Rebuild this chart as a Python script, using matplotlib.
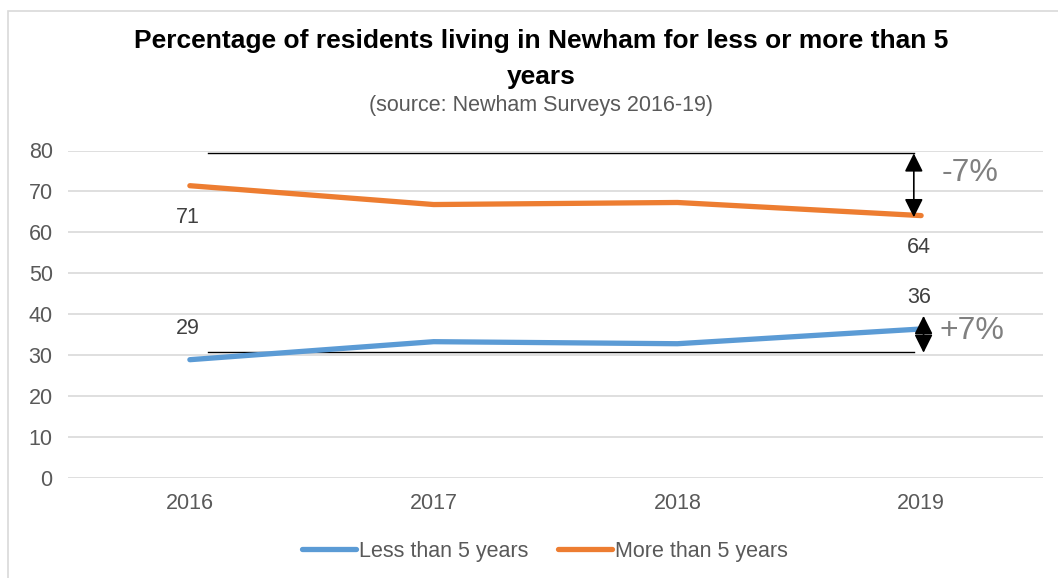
import matplotlib
matplotlib.use("Agg")
import matplotlib.pyplot as plt
from matplotlib.patches import Rectangle

plt.rcParams['font.family'] = ['Liberation Sans', 'DejaVu Sans']

years = ["2016", "2017", "2018", "2019"]
less_than_5 = [28.9, 33.3, 32.8, 36.4]
more_than_5 = [71.4, 66.8, 67.3, 64.1]
less_labels = ["29", "", "", "36"]
more_labels = ["71", "", "", "64"]
y_ticks = [0, 10, 20, 30, 40, 50, 60, 70, 80]

blue = "#5B9BD5"
orange = "#ED7D31"
fs = 15.5

fig = plt.figure(figsize=(10.58, 5.78), dpi=100)
# outer chart border
fig.patches.append(Rectangle((8 / 1058, -0.1), 1.2, (578 - 11) / 578 + 0.1,
                             transform=fig.transFigure, fill=False,
                             edgecolor="#D9D9D9", linewidth=1.2))

ax = fig.add_axes([68 / 1058, 100 / 578, 975 / 1058, 327.5 / 578])
x = list(range(len(years)))
ax.plot(x, less_than_5, color=blue, lw=3.8, solid_capstyle='round', label="Less than 5 years", zorder=3)
ax.plot(x, more_than_5, color=orange, lw=3.8, solid_capstyle='round', label="More than 5 years", zorder=3)

ax.set_xlim(-0.5, len(years) - 0.5)
ax.set_ylim(0, 80)
ax.set_yticks(y_ticks)
ax.set_xticks(x)
ax.set_xticklabels(years)
ax.tick_params(axis='both', length=0, labelsize=fs, labelcolor="#595959")
ax.tick_params(axis='y', pad=11)
ax.tick_params(axis='x', pad=11)
for s in ax.spines.values():
    s.set_visible(False)
ax.grid(axis='y', color="#D9D9D9", lw=1.2)
ax.set_axisbelow(True)

for i, lab in enumerate(more_labels):
    if lab:
        ax.annotate(lab, (i, more_than_5[i]), xytext=(-2, -32), textcoords='offset pixels',
                    ha='center', va='center', fontsize=fs, color="#404040")
for i, lab in enumerate(less_labels):
    if lab:
        ax.annotate(lab, (i, less_than_5[i]), xytext=(-2, 31), textcoords='offset pixels',
                    ha='center', va='center', fontsize=fs, color="#404040")

# reference lines and change arrows
ref_top = 79.3
ref_bottom = 30.8
line_start = 0.074
line_end = 2.97
ax.plot([line_start, line_end], [ref_top, ref_top], color="black", lw=1, zorder=2)
ax.plot([line_start, line_end], [ref_bottom, ref_bottom], color="black", lw=1, zorder=2)
arrowprops = dict(arrowstyle='<|-|>', color='black', lw=1.2, mutation_scale=28, shrinkA=0, shrinkB=0)
ax.annotate("", xy=(2.97, ref_top), xytext=(2.97, more_than_5[3] - 0.4), arrowprops=arrowprops)
ax.annotate("", xy=(3.01, less_than_5[3] + 3.2), xytext=(3.01, ref_bottom - 0.2), arrowprops=arrowprops)
ax.text(3.085, 74.6, "-7%", fontsize=23, color="#808080", ha='left', va='center')
ax.text(3.075, 36.0, "+7%", fontsize=23, color="#808080", ha='left', va='center')

cx = 541 / 1058
fig.text(cx, 1 - 41 / 578, "Percentage of residents living in Newham for less or more than 5",
         ha='center', va='center', fontsize=19, fontweight='bold', color='black')
fig.text(cx, 1 - 77 / 578, "years", ha='center', va='center', fontsize=19, fontweight='bold', color='black')
fig.text(cx, 1 - 105 / 578, "(source: Newham Surveys 2016-19)", ha='center', va='center',
         fontsize=fs, color="#595959")

leg = fig.legend(loc='center', bbox_to_anchor=(545 / 1058, 1 - 551 / 578), ncol=2, frameon=False,
                 fontsize=fs, handlelength=2.5, handletextpad=0.15, columnspacing=1.4)
for t in leg.get_texts():
    t.set_color("#595959")

fig.savefig("out.png", dpi=100)
